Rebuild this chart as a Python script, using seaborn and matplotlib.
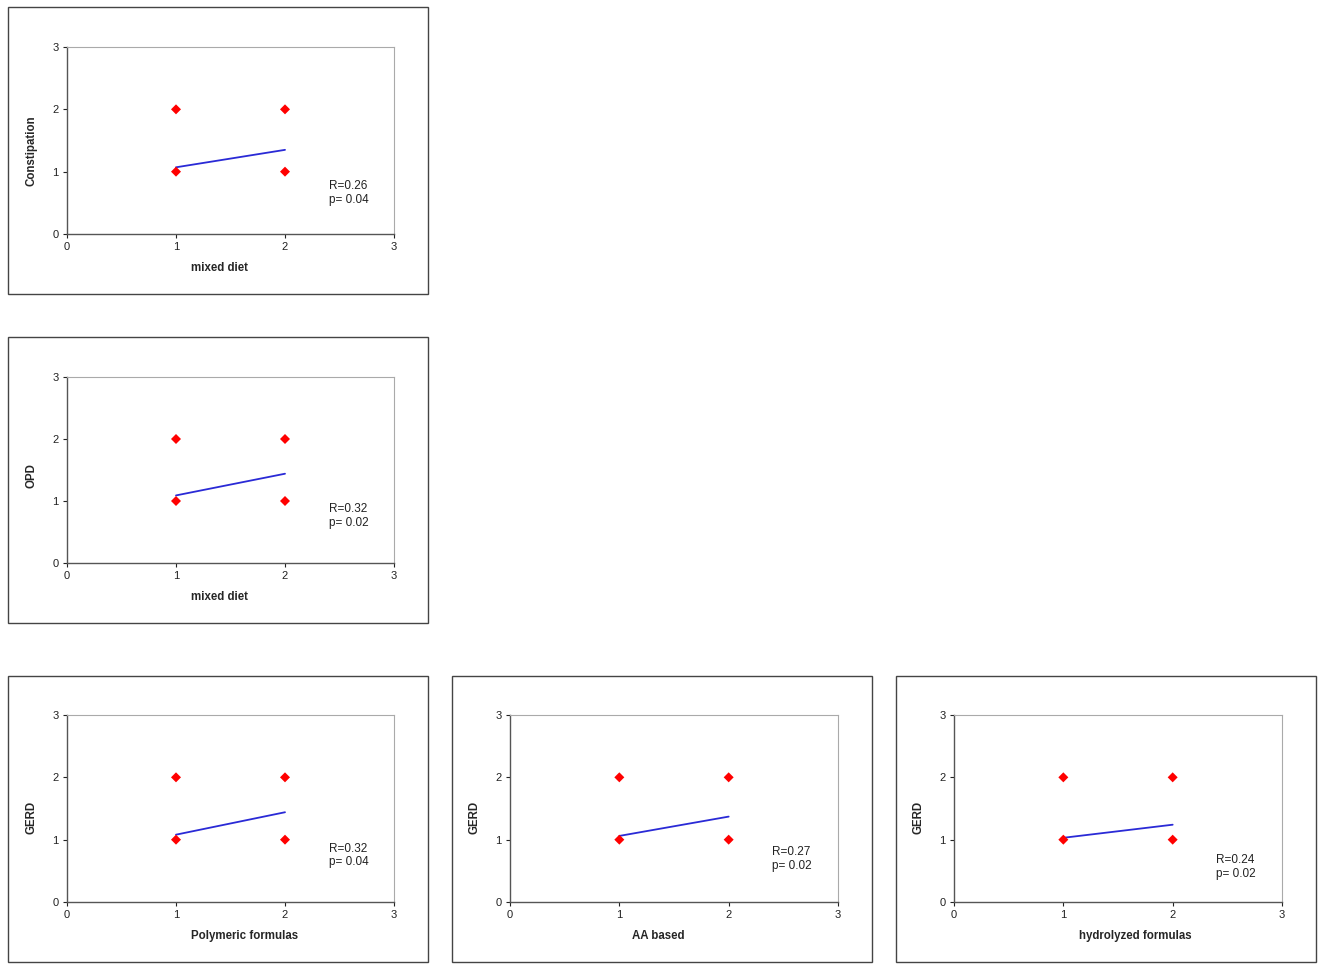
import matplotlib
matplotlib.use("Agg")
import matplotlib.pyplot as plt
from matplotlib.patches import Rectangle
import seaborn as sns
import pandas as pd

sns.set_style("white")
plt.rcParams['font.family'] = ['Liberation Sans', 'DejaVu Sans']

# observed points (same in every panel)
point_x = [1, 1, 2, 2]
point_y = [1, 2, 1, 2]

# panel texts and fitted line ends (y at x=1 and x=2)
x_labels = ['mixed diet', 'mixed diet', 'Polymeric formulas', 'AA based', 'hydrolyzed formulas']
y_labels = ['Constipation', 'OPD', 'GERD', 'GERD', 'GERD']
line_x = [1, 2]
line_y = [[1.07, 1.35], [1.09, 1.44], [1.08, 1.44], [1.06, 1.37], [1.03, 1.24]]
r_values = ['0.26', '0.32', '0.32', '0.27', '0.24']
p_values = ['0.04', '0.02', '0.04', '0.02', '0.02']
text_y = [0.66, 0.76, 0.75, 0.69, 0.56]

W, H = 1325, 967
# frame boxes (left, top, right, bottom) and axes boxes in pixels
frames = [(8, 7, 428, 294), (8, 337, 428, 623),
          (8, 676, 428, 962), (452, 676, 872, 962), (896, 676, 1316, 962)]
axboxes = [(67, 47, 394, 234), (67, 377, 394, 563),
           (67, 715, 394, 902), (510, 715, 838, 902), (954, 715, 1282, 902)]
xlab_pos = [0.465, 0.465, 0.544, 0.451, 0.552]
ylab_pos = [0.447, 0.468, 0.45, 0.45, 0.45]

fig = plt.figure(figsize=(13.25, 9.67), dpi=100)

for i in range(5):
    fl, ft, fr, fb = frames[i]
    fig.patches.append(Rectangle((fl / W, 1 - fb / H), (fr - fl) / W, (fb - ft) / H,
                                 transform=fig.transFigure, fill=False,
                                 edgecolor='#444444', linewidth=1.0))
    l, t, r, b = axboxes[i]
    ax = fig.add_axes([l / W, 1 - b / H, (r - l) / W, (b - t) / H])

    pts = pd.DataFrame({'x': point_x, 'y': point_y})
    ln = pd.DataFrame({'x': line_x, 'y': line_y[i]})
    sns.lineplot(data=ln, x='x', y='y', color='#2a2ad6', linewidth=1.3, ax=ax)
    sns.scatterplot(data=pts, x='x', y='y', marker='D', s=26, color='#ff0000',
                    edgecolor='none', ax=ax, zorder=3)

    ax.text(2.4, text_y[i], f'R={r_values[i]}\np= {p_values[i]}',
            fontsize=8.5, color='#222222', linespacing=1.15, va='center')

    ax.set_xlim(0, 3)
    ax.set_ylim(0, 3)
    ax.set_xticks([0, 1, 2, 3])
    ax.set_yticks([0, 1, 2, 3])
    ax.set_xlabel(x_labels[i], fontsize=8.3, fontweight='bold')
    ax.set_ylabel(y_labels[i], fontsize=8.3, fontweight='bold')
    ax.xaxis.set_label_coords(xlab_pos[i], -0.15)
    ax.yaxis.set_label_coords(-0.09, ylab_pos[i])
    ax.tick_params(axis='both', labelsize=8, direction='out', length=3,
                   width=0.8, colors='#222222', bottom=True, left=True, pad=3)
    for side in ['left', 'bottom']:
        ax.spines[side].set_color('#555555')
        ax.spines[side].set_linewidth(1.0)
    for side in ['top', 'right']:
        ax.spines[side].set_color('#aaaaaa')
        ax.spines[side].set_linewidth(0.8)

plt.savefig('out.png', dpi=100)
